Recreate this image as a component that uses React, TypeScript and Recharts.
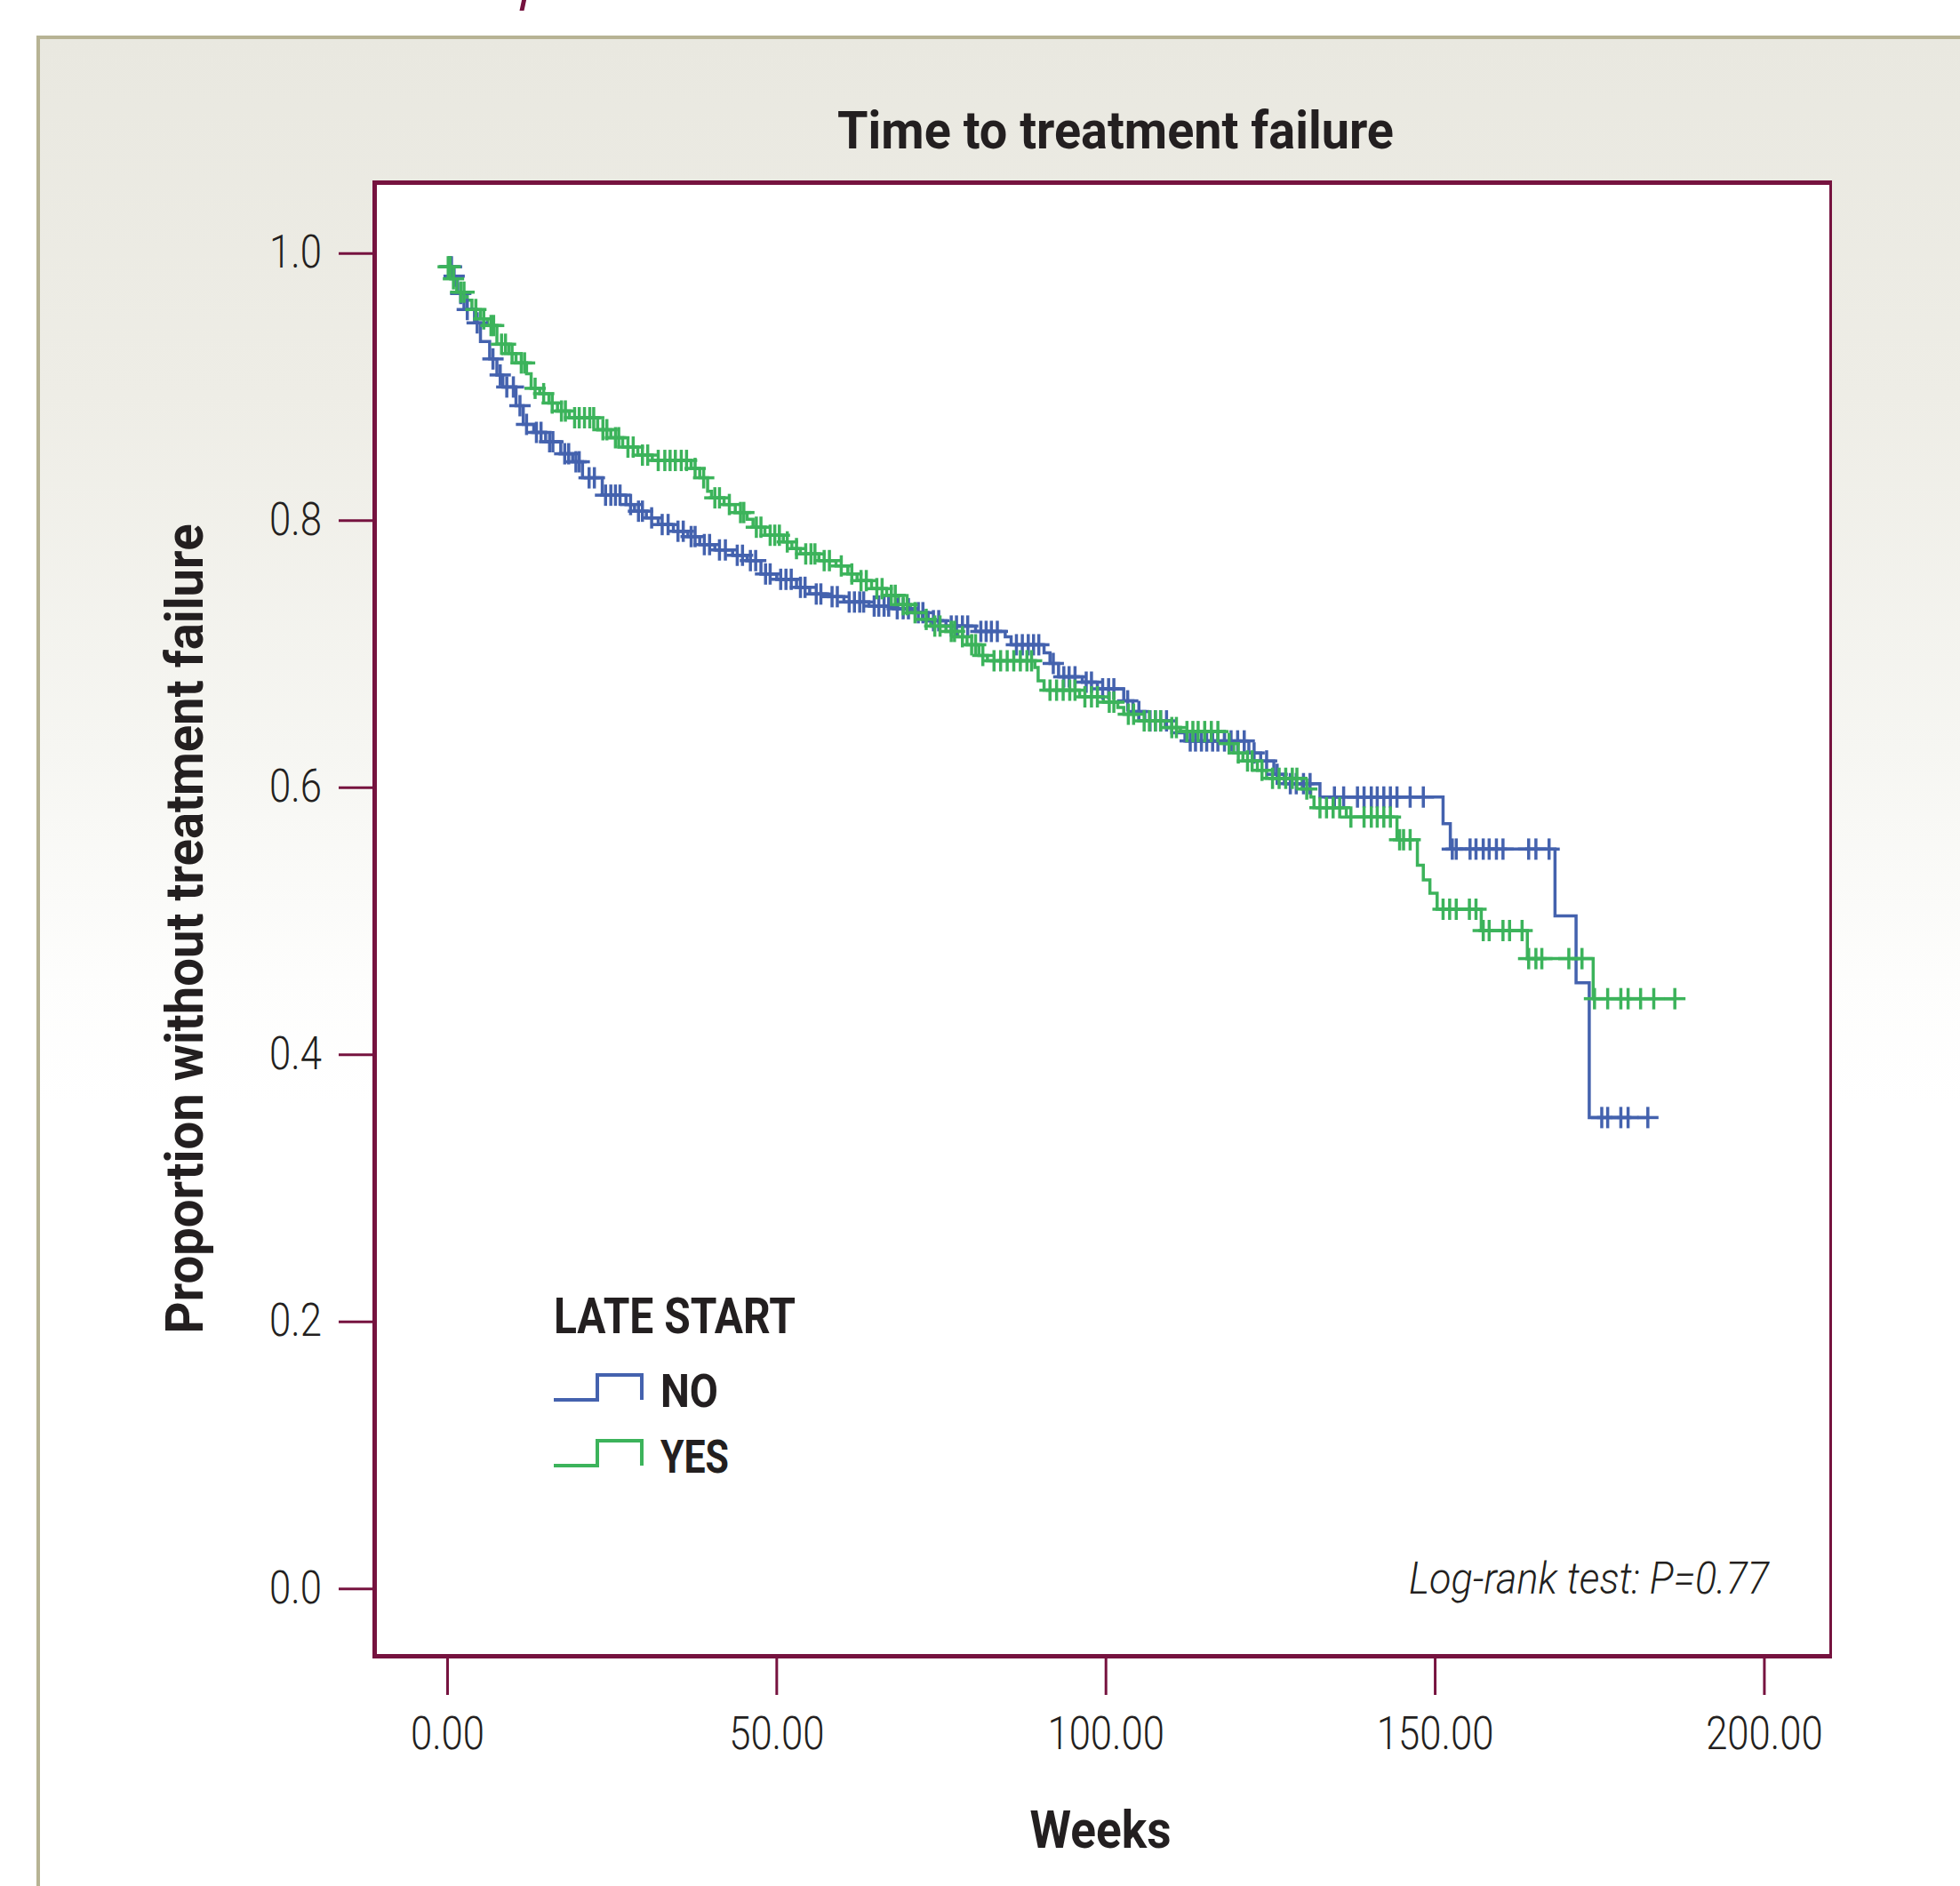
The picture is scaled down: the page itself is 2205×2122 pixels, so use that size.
import React from "react";
import { ComposedChart, Line, Scatter, XAxis, YAxis } from "recharts";

// Kaplan-Meier steps (weeks, proportion without failure)
const noStepWeeks = [
  0, 0.8, 1.5, 2.5, 4.1, 5.0, 6.4, 7.5, 8.4, 10.4, 11.5, 13.1, 14.9, 17.2, 19.0, 20.5, 23.5, 27.1,
  28.4, 30.2, 32.0, 34.3, 36.5, 38.3, 40.6, 43.3, 45.5, 47.6, 50.0, 53.0, 55.0, 57.7, 60.2, 64.0,
  67.6, 70.8, 73.0, 75.7, 80.2, 84.7, 85.6, 90.6, 91.5, 92.8, 96.4, 98.7, 102.7, 104.1, 105.9,
  110.0, 112.0, 121.7, 123.5, 125.5, 127.1, 132.5, 151.2, 152.3, 168.2, 171.4, 173.4,
];
const noStepSurv = [
  0.99, 0.983, 0.97, 0.958, 0.948, 0.934, 0.921, 0.909, 0.9, 0.886, 0.872, 0.866, 0.859, 0.85,
  0.844, 0.832, 0.819, 0.812, 0.807, 0.802, 0.797, 0.792, 0.788, 0.782, 0.778, 0.774, 0.77, 0.76,
  0.756, 0.75, 0.745, 0.743, 0.739, 0.736, 0.734, 0.731, 0.725, 0.721, 0.717, 0.713, 0.707, 0.701,
  0.693, 0.683, 0.679, 0.674, 0.665, 0.657, 0.65, 0.641, 0.635, 0.626, 0.62, 0.61, 0.603, 0.593,
  0.573, 0.554, 0.504, 0.454, 0.353,
];
const noCensorWeeks = [
  0.3, 0.6, 1.0, 2.0, 3.0, 4.5, 6.9, 8.0, 9.0, 10.0, 11.0, 12.0, 13.5, 14.2, 15.5, 16.0, 17.8,
  18.4, 19.5, 20.0, 21.5, 22.3, 24.0, 24.8, 25.5, 26.2, 27.8, 29.0, 29.6, 31.0, 32.6, 33.5, 35.0,
  35.8, 37.0, 37.6, 39.0, 39.8, 41.3, 42.2, 44.0, 44.8, 46.0, 46.8, 48.3, 49.0, 50.6, 51.4, 52.2,
  53.6, 54.3, 56.0, 56.7, 58.4, 59.2, 61.0, 61.8, 62.6, 63.2, 64.8, 65.5, 66.3, 67.0, 68.3, 69.2,
  70.0, 71.5, 72.2, 73.8, 74.6, 76.5, 77.3, 78.2, 79.0, 81.0, 81.8, 82.6, 83.5, 86.4, 87.3, 88.2,
  89.0, 89.8, 92.0, 93.6, 94.4, 95.3, 97.0, 97.8, 99.5, 100.4, 101.2, 103.3, 105.0, 106.7, 107.5,
  108.3, 109.2, 112.8, 113.6, 114.5, 115.3, 116.2, 117.0, 118.0, 119.0, 120.0, 121.0, 122.5,
  124.4, 126.0, 128.0, 128.9, 130.0, 131.0, 134.7, 136.1, 138.2, 139.2, 140.3, 141.2, 142.2,
  143.2, 144.2, 146.2, 148.2, 152.6, 153.2, 155.3, 156.2, 157.3, 158.2, 159.3, 160.3, 164.2,
  165.3, 167.3, 175.3, 176.2, 178.2, 179.3, 182.3,
];

const yesStepWeeks = [
  0, 0.5, 1.4, 3.0, 3.7, 5.0, 6.1, 7.5, 9.3, 10.4, 12.0, 12.7, 14.0, 15.4, 16.7, 18.5, 22.8, 24.8,
  26.6, 28.9, 31.1, 37.0, 38.3, 39.5, 40.1, 42.0, 43.7, 45.5, 46.4, 48.2, 51.0, 52.3, 53.6, 56.4,
  59.0, 60.8, 62.2, 64.4, 66.7, 68.5, 70.3, 72.1, 73.4, 75.7, 77.5, 78.9, 80.7, 82.0, 89.2, 89.7,
  90.6, 96.0, 99.6, 101.8, 102.7, 105.0, 109.0, 111.3, 118.0, 119.4, 120.8, 123.0, 124.4, 129.8,
  131.1, 131.6, 136.5, 144.2, 147.3, 148.2, 149.2, 150.3, 157.0, 164.0, 174.0,
];
const yesStepSurv = [
  0.99, 0.981, 0.971, 0.965, 0.958, 0.951, 0.946, 0.932, 0.925, 0.918, 0.91, 0.899, 0.895, 0.888,
  0.882, 0.877, 0.868, 0.862, 0.855, 0.849, 0.845, 0.839, 0.832, 0.822, 0.817, 0.812, 0.806, 0.801,
  0.795, 0.789, 0.784, 0.779, 0.775, 0.77, 0.766, 0.76, 0.755, 0.749, 0.744, 0.737, 0.731, 0.726,
  0.721, 0.717, 0.713, 0.707, 0.699, 0.695, 0.69, 0.68, 0.673, 0.668, 0.664, 0.66, 0.655, 0.65,
  0.645, 0.642, 0.633, 0.626, 0.62, 0.613, 0.607, 0.599, 0.593, 0.585, 0.578, 0.561, 0.542, 0.531,
  0.521, 0.509, 0.493, 0.472, 0.442,
];
const yesCensorWeeks = [
  0.1, 0.4, 0.9, 2.0, 2.5, 4.3, 5.5, 6.6, 7.0, 8.2, 8.8, 9.8, 11.2, 11.7, 13.3, 14.6, 15.9, 17.3,
  17.9, 19.3, 20.0, 20.8, 21.6, 22.2, 23.6, 24.2, 25.5, 26.0, 27.4, 28.2, 29.6, 30.4, 32.0, 33.0,
  33.8, 34.6, 35.5, 36.3, 37.6, 38.9, 40.6, 41.3, 42.8, 44.5, 45.0, 46.9, 47.6, 49.0, 49.7, 50.4,
  51.6, 53.0, 54.4, 55.2, 55.8, 57.2, 58.0, 59.8, 61.4, 62.8, 63.6, 65.2, 66.0, 67.4, 68.0, 69.2,
  69.8, 71.0, 72.7, 74.0, 74.8, 76.5, 77.0, 78.2, 79.6, 80.2, 81.3, 83.0, 84.0, 85.0, 86.0, 87.0,
  88.0, 88.7, 91.5, 92.5, 93.5, 94.5, 95.3, 96.8, 97.8, 98.7, 100.5, 101.2, 103.4, 104.2, 105.8,
  106.6, 107.5, 108.3, 110.0, 110.7, 112.3, 113.2, 114.0, 115.0, 116.0, 117.0, 118.7, 120.1,
  121.5, 122.2, 123.7, 125.3, 126.3, 127.3, 128.3, 129.0, 130.5, 132.5, 133.5, 134.5, 135.5,
  137.2, 139.2, 140.3, 141.2, 142.2, 143.2, 144.6, 145.2, 146.2, 151.2, 152.2, 153.2, 155.2,
  156.2, 157.3, 158.2, 160.3, 161.3, 163.2, 164.2, 165.3, 166.2, 170.3, 172.3, 174.2, 176.2,
  178.2, 179.3, 181.2, 183.2, 186.4,
];

const xTicks = [0, 50, 100, 150, 200];
const yTicks = [0, 0.2, 0.4, 0.6, 0.8, 1.0];

const MAROON = "#76133f";
const BLUE = "#4462ae";
const GREEN = "#3cb35b";
const INK = "#231f20";
const FONT = "Roboto, 'Open Sans', sans-serif";

// survival value of a step curve at time t
const survAt = (weeks: number[], surv: number[], t: number) => {
  let v = surv[0];
  for (let i = 0; i < weeks.length; i++) if (weeks[i] <= t) v = surv[i];
  return v;
};

const buildLine = (weeks: number[], surv: number[], censor: number[]) => {
  const rows = weeks.map((w, i) => ({ week: w, surv: surv[i] }));
  const end = censor[censor.length - 1];
  rows.push({ week: end, surv: survAt(weeks, surv, end) });
  return rows;
};

const buildCensor = (weeks: number[], surv: number[], censor: number[]) =>
  censor.map((t) => ({ week: t, surv: survAt(weeks, surv, t) }));

const noLine = buildLine(noStepWeeks, noStepSurv, noCensorWeeks);
const yesLine = buildLine(yesStepWeeks, yesStepSurv, yesCensorWeeks);
const noCensor = buildCensor(noStepWeeks, noStepSurv, noCensorWeeks);
const yesCensor = buildCensor(yesStepWeeks, yesStepSurv, yesCensorWeeks);

const plusShape = (color: string) => (props: any) => {
  const { cx, cy } = props;
  return (
    <g>
      <line x1={cx - 12} x2={cx + 12} y1={cy} y2={cy} stroke={color} strokeWidth={3.5} />
      <line x1={cx} x2={cx} y1={cy - 12} y2={cy + 12} stroke={color} strokeWidth={3.5} />
    </g>
  );
};

// condensed light tick labels
const XTick = (props: any) => {
  const { x, y, payload } = props;
  return (
    <text
      transform={`translate(${x},${y + 61}) scale(0.84,1)`}
      textAnchor="middle"
      fontFamily={FONT}
      fontWeight={300}
      fontSize={52}
      fill={INK}
    >
      {Number(payload.value).toFixed(2)}
    </text>
  );
};

const YTick = (props: any) => {
  const { x, y, payload } = props;
  return (
    <text
      transform={`translate(${x},${y + 16}) scale(0.84,1)`}
      textAnchor="end"
      fontFamily={FONT}
      fontWeight={300}
      fontSize={52}
      fill={INK}
    >
      {Number(payload.value).toFixed(1)}
    </text>
  );
};

const App: React.FC = () => {
  return (
    <div style={{ position: "absolute", left: 0, top: 0, width: 2205, height: 2122, background: "#fff", overflow: "hidden" }}>
      {/* fragment of heading above the panel */}
      <div style={{ position: "absolute", left: 586, top: -2, width: 5, height: 14, background: MAROON, transform: "skewX(-12deg)" }} />
      {/* grey panel */}
      <div
        style={{
          position: "absolute",
          left: 41,
          top: 40,
          width: 2300,
          height: 2200,
          borderTop: "4px solid #b7b394",
          borderLeft: "4px solid #b7b394",
          background: "linear-gradient(to bottom, #e9e8e0 0px, #eeede6 400px, #f6f6f2 800px, #fdfdfc 1050px, #ffffff 1200px)",
        }}
      />
      {/* plot frame */}
      <div
        style={{
          position: "absolute",
          left: 419,
          top: 203,
          width: 2061 - 419,
          height: 1866 - 203,
          boxSizing: "border-box",
          background: "#fff",
          borderStyle: "solid",
          borderColor: MAROON,
          borderWidth: "5px 3px 5px 5px",
        }}
      />
      <div style={{ position: "absolute", left: 0, top: 0 }}>
        <ComposedChart width={2205} height={2122} margin={{ top: 207, right: 146, bottom: 0, left: 0 }}>
          <XAxis
            type="number"
            dataKey="week"
            domain={[-11, 210]}
            ticks={xTicks}
            interval={0}
            allowDataOverflow
            height={259}
            axisLine={false}
            tickLine={{ stroke: MAROON, strokeWidth: 3 }}
            tickSize={44}
            tickMargin={0}
            tick={<XTick />}
          />
          <YAxis
            type="number"
            dataKey="surv"
            domain={[-0.05, 1.052]}
            ticks={yTicks}
            interval={0}
            allowDataOverflow
            width={422}
            axisLine={false}
            tickLine={{ stroke: MAROON, strokeWidth: 3 }}
            tickSize={41}
            tickMargin={19}
            tick={<YTick />}
          />
          <Line
            data={noLine}
            dataKey="surv"
            type="stepAfter"
            stroke={BLUE}
            strokeWidth={3.5}
            dot={false}
            activeDot={false}
            isAnimationActive={false}
          />
          <Line
            data={yesLine}
            dataKey="surv"
            type="stepAfter"
            stroke={GREEN}
            strokeWidth={3.5}
            dot={false}
            activeDot={false}
            isAnimationActive={false}
          />
          <Scatter data={noCensor} dataKey="surv" shape={plusShape(BLUE)} isAnimationActive={false} />
          <Scatter data={yesCensor} dataKey="surv" shape={plusShape(GREEN)} isAnimationActive={false} />
        </ComposedChart>
      </div>
      {/* titles, legend, annotation */}
      <svg width={2205} height={2122} style={{ position: "absolute", left: 0, top: 0, pointerEvents: "none" }}>
        <text x={1255} y={167} textAnchor="middle" textLength={626} lengthAdjust="spacingAndGlyphs" fontFamily={FONT} fontWeight="bold" fontSize={60} fill={INK}>
          Time to treatment failure
        </text>
        <text x={1238} y={2079} textAnchor="middle" textLength={159} lengthAdjust="spacingAndGlyphs" fontFamily={FONT} fontWeight="bold" fontSize={60} fill={INK}>
          Weeks
        </text>
        <text
          x={228}
          y={1045}
          textAnchor="middle"
          textLength={911}
          lengthAdjust="spacingAndGlyphs"
          transform="rotate(-90 228 1045)"
          fontFamily={FONT}
          fontWeight="bold"
          fontSize={60}
          fill={INK}
        >
          Proportion without treatment failure
        </text>
        <text x={623} y={1500} textLength={272} lengthAdjust="spacingAndGlyphs" fontFamily={FONT} fontWeight="bold" fontSize={56} fill={INK}>
          LATE START
        </text>
        <polyline points="623,1575 672,1575 672,1547 722,1547 722,1575" fill="none" stroke={BLUE} strokeWidth={4} />
        <text x={743} y={1583} textLength={65} lengthAdjust="spacingAndGlyphs" fontFamily={FONT} fontWeight="bold" fontSize={52} fill={INK}>
          NO
        </text>
        <polyline points="623,1649 672,1649 672,1621 722,1621 722,1649" fill="none" stroke={GREEN} strokeWidth={4} />
        <text x={743} y={1657} textLength={77} lengthAdjust="spacingAndGlyphs" fontFamily={FONT} fontWeight="bold" fontSize={52} fill={INK}>
          YES
        </text>
        <text x={1990} y={1793} textAnchor="end" textLength={405} lengthAdjust="spacingAndGlyphs" fontFamily={FONT} fontStyle="italic" fontWeight={300} fontSize={50} fill={INK}>
          Log-rank test: P=0.77
        </text>
      </svg>
    </div>
  );
};

export default App;
